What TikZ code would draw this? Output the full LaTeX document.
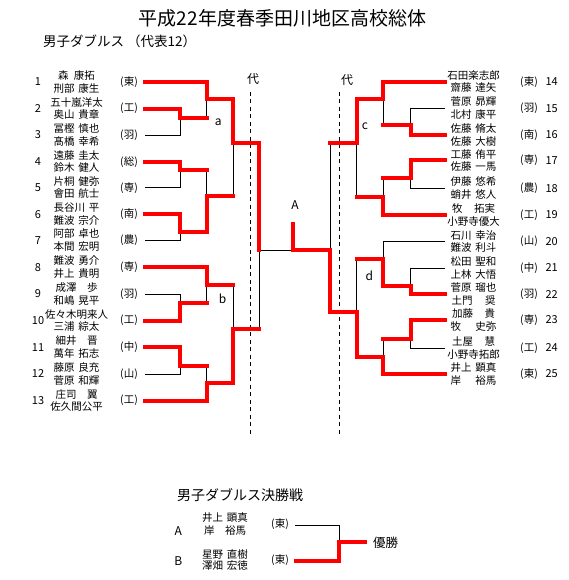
\documentclass[tikz,border=0pt]{standalone}
\usepackage{fontspec}
\setmainfont{Noto Sans CJK JP}
\newcommand\nmx[3][46pt]{\makebox[#1]{#2\hfill#3}}
\begin{document}
\begin{tikzpicture}[x=1pt,y=-1pt,
  win/.style={draw=red,line width=4pt,line cap=rect,line join=miter},
  lose/.style={draw=black,line width=0.9pt},
  dashline/.style={draw=black,line width=0.9pt,dash pattern=on 4pt off 3.5pt},
  nm/.style={font=\fontsize{10.5}{12}\selectfont,inner sep=0pt},
  num/.style={font=\fontsize{11}{12}\selectfont,inner sep=0pt},
  lbl/.style={font=\fontsize{12}{13}\selectfont,inner sep=0pt},
  ttl/.style={font=\fontsize{19}{22}\selectfont,inner sep=0pt},
  sub/.style={font=\fontsize{13.5}{15}\selectfont,inner sep=0pt,anchor=west}]
\fill[white] (0,0) rectangle (568,580);
\useasboundingbox (0,0) rectangle (568,580);

\newcommand\entL[5]{%
  \coordinate (L#1) at (145,#2);
  \node[nm] (La#1) at (76.5,#2-6.3) {#3};
  \node[nm] (Lb#1) at (76.5,#2+6.3) {#4};
  \node[num] (Ln#1) at (38,#2) {#1};
  \node[nm] (Ls#1) at (129,#2) {(#5)};}
\newcommand\entR[5]{%
  \coordinate (R#1) at (445,#2);
  \node[nm] (Ra#1) at (473.5,#2-6.3) {#3};
  \node[nm] (Rb#1) at (473.5,#2+6.3) {#4};
  \node[num] (Rn#1) at (551.7,#2) {#1};
  \node[nm] (Rs#1) at (529,#2) {(#5)};}

% titles
\node[ttl] (title) at (282.5,18) {平成22年度春季田川地区高校総体};
\node[sub] (subt) at (43,41) {男子ダブルス （代表12）};

% left entries
\entL{1}{82}{\nmx[37pt]{森}{康拓}}{\nmx{刑部}{康生}}{東}
\entL{2}{108.7}{五十嵐洋太}{\nmx{奥山}{貴章}}{工}
\entL{3}{135}{\nmx{冨樫}{慎也}}{\nmx{髙橋}{幸希}}{羽}
\entL{4}{161.7}{\nmx{遠藤}{圭太}}{\nmx{鈴木}{健人}}{総}
\entL{5}{187.7}{\nmx{片桐}{健弥}}{\nmx{會田}{航士}}{専}
\entL{6}{214.3}{\nmx{長谷川}{平}}{\nmx{難波}{宗介}}{南}
\entL{7}{240.3}{\nmx{阿部}{卓也}}{\nmx{本間}{宏明}}{農}
\entL{8}{267.3}{\nmx{難波}{勇介}}{\nmx{井上}{貴明}}{専}
\entL{9}{294}{\nmx[42pt]{成澤}{歩}}{\nmx{和嶋}{晃平}}{羽}
\entL{10}{320.7}{佐々木明来人}{\nmx{三浦}{綜太}}{工}
\entL{11}{347.3}{\nmx[42pt]{細井}{晋}}{\nmx{萬年}{拓志}}{中}
\entL{12}{374}{\nmx{藤原}{良充}}{\nmx{菅原}{和輝}}{山}
\entL{13}{400.7}{\nmx[42pt]{庄司}{翼}}{佐久間公平}{工}

% right entries
\entR{14}{81.7}{石田楽志郎}{\nmx{齋藤}{達矢}}{東}
\entR{15}{108.3}{\nmx{菅原}{昴輝}}{\nmx{北村}{康平}}{羽}
\entR{16}{135}{\nmx{佐藤}{脩太}}{\nmx{佐藤}{大樹}}{南}
\entR{17}{160.5}{\nmx{工藤}{侑平}}{\nmx{佐藤}{一馬}}{専}
\entR{18}{188.3}{\nmx{伊藤}{悠希}}{\nmx{蛸井}{悠人}}{農}
\entR{19}{215}{\nmx[43pt]{牧}{拓実}}{小野寺優大}{工}
\entR{20}{241.7}{\nmx{石川}{幸治}}{\nmx{難波}{利斗}}{山}
\entR{21}{268}{\nmx{松田}{聖和}}{\nmx{上林}{大悟}}{中}
\entR{22}{294.3}{\nmx{菅原}{瑠也}}{\nmx[44pt]{土門}{奨}}{羽}
\entR{23}{320}{\nmx[43pt]{加藤}{貴}}{\nmx{牧}{史弥}}{専}
\entR{24}{348}{\nmx[43pt]{土屋}{慧}}{小野寺拓郎}{工}
\entR{25}{374}{\nmx{井上}{顕真}}{\nmx{岸}{裕馬}}{東}

% junctions left
\coordinate (m23) at (180,117.7);
\coordinate (m45) at (180,170);
\coordinate (m67) at (180,232.3);
\coordinate (m910) at (180,302.7);
\coordinate (m1112) at (180,366);
\coordinate (m123) at (206.7,99.3);
\coordinate (m4567) at (206.7,196);
\coordinate (m8910) at (206.7,285);
\coordinate (m111213) at (206.7,383.3);
\coordinate (ma) at (233,143.3);
\coordinate (mb) at (233,329);
\coordinate (mL) at (259.3,250);
\coordinate (mA) at (293,250);
\coordinate (mAtop) at (293,224);
% junctions right
\coordinate (n1516) at (410.7,125);
\coordinate (n1718) at (410.7,178.3);
\coordinate (n2122) at (410.7,286);
\coordinate (n2324) at (410.7,339);
\coordinate (n141516) at (383.3,99.3);
\coordinate (n171819) at (383.3,196.7);
\coordinate (n202122) at (383.3,259);
\coordinate (n232425) at (383.3,356.7);
\coordinate (nc) at (356.7,143.3);
\coordinate (nd) at (356.7,311.7);
\coordinate (nR) at (330,250);

% dashed lines
\coordinate (dL1) at (250.7,92); \coordinate (dL2) at (250.7,436);
\coordinate (dR1) at (339.3,92); \coordinate (dR2) at (339.3,436);
\draw[dashline] (dL1) -- (dL2);
\draw[dashline] (dR1) -- (dR2);
\node[lbl] (dai1) at (253,79) {代};
\node[lbl] (dai2) at (347,80) {代};

% black (losing) lines, left
\draw[lose] (mL) -- (mA);
\draw[lose] (m123) -- (m23 -| m123);
\draw[lose] (L3) -| (m23);
\draw[lose] (m45 -| m4567) -- (m4567);
\draw[lose] (L5) -| (m45);
\draw[lose] (m4567 -| ma) -- (ma);
\draw[lose] (L7) -| (m67);
\draw[lose] (m8910 -| mb) -- (mb);
\draw[lose] (L9) -| (m910);
\draw[lose] (m910 -| m8910) -- (m8910);
\draw[lose] (m1112 -| m111213) -- (m111213);
\draw[lose] (L12) -| (m1112);
\draw[lose] (mb -| mL) -- (mL);
% black, right
\draw[lose] (nc -| nR) -- (nR);
\draw[lose] (R15) -| (n1516);
\draw[lose] (n1516 -| n141516) -- (n141516);
\draw[lose] (n1718 -| n171819) -- (n171819);
\draw[lose] (R18) -| (n1718);
\draw[lose] (n171819 -| nc) -- (nc);
\draw[lose] (R20) -| (n202122);
\draw[lose] (R21) -| (n2122);
\draw[lose] (n202122 -| nd) -- (nd);
\draw[lose] (n2324 -| n232425) -- (n232425);
\draw[lose] (R24) -| (n2324);

% red (winning) lines, left
\draw[win] (L1) -| (m123) -| (ma) -| (mL);
\draw[win] (L2) -| (m23) -- (m23 -| m123);
\draw[win] (L4) -| (m45) -- (m45 -| m4567);
\draw[win] (L6) -| (m67) -| (m4567) -- (m4567 -| ma);
\draw[win] (L8) -| (m8910) -- (m8910 -| mb);
\draw[win] (L10) -| (m910) -- (m910 -| m8910);
\draw[win] (L11) -| (m1112) -- (m1112 -| m111213);
\draw[win] (L13) -| (m111213) -| (mb) -- (mb -| mL);
% red, right
\draw[win] (R14) -| (n141516) -| (nc) -- (nc -| nR);
\draw[win] (R16) -| (n1516) -- (n1516 -| n141516);
\draw[win] (R17) -| (n1718) -- (n1718 -| n171819);
\draw[win] (R19) -| (n171819) -- (n171819 -| nc);
\draw[win] (R22) -| (n2122) -| (n202122) -- (n202122 -| nd);
\draw[win] (R23) -| (n2324) -- (n2324 -| n232425);
\draw[win] (R25) -| (n232425) -| (nd) -| (nR) -- (mA) -- (mAtop);

% round labels
\node[lbl] (la) at (218.3,122.3) {a};
\node[lbl] (lb) at (222.7,299) {b};
\node[lbl] (lc) at (365,126.7) {c};
\node[lbl] (ld) at (369.3,276) {d};
\node[lbl] (lA) at (295,205) {A};

% final
\node[sub,font=\fontsize{14}{15}\selectfont] (fin) at (177,495) {男子ダブルス決勝戦};
\node[lbl] (fAl) at (178.3,531) {A};
\node[nm] (fA1) at (225,517.5) {\nmx{井上}{顕真}};
\node[nm] (fA2) at (225,531) {\nmx[42pt]{岸}{裕馬}};
\node[nm] (fAs) at (280,524) {(東)};
\node[lbl] (fBl) at (178.3,561) {B};
\node[nm] (fB1) at (225,554.2) {\nmx{星野}{直樹}};
\node[nm] (fB2) at (225,566) {\nmx{澤畑}{宏徳}};
\node[nm] (fBs) at (280,560.5) {(東)};
\node[font=\fontsize{12.5}{14}\selectfont,inner sep=0pt] (champ) at (385.5,542.5) {優勝};
\coordinate (fA) at (295,525);
\coordinate (fB) at (296,561);
\coordinate (fj) at (339.3,541.7);
\coordinate (fw) at (364.7,541.7);
\draw[lose] (fA) -| (fj);
\draw[win] (fB) -| (fj) -- (fw);
\end{tikzpicture}
\end{document}
